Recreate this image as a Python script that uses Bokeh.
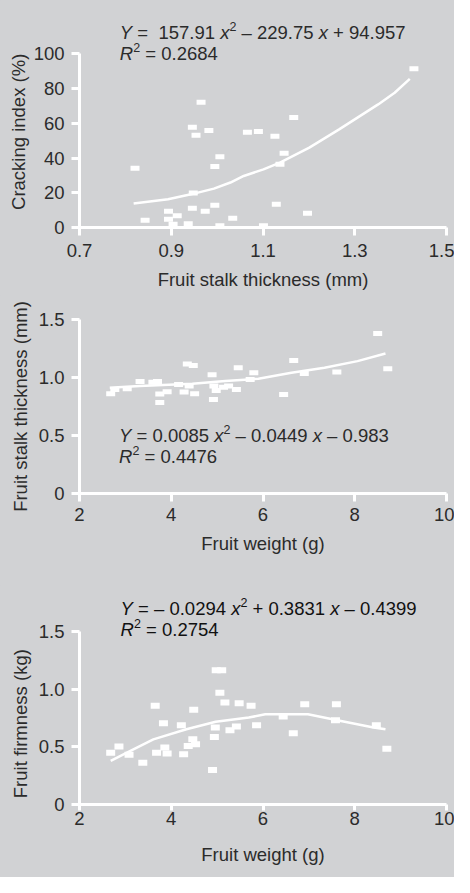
from bokeh.plotting import figure
from bokeh.layouts import column
from bokeh.models import FixedTicker, Label
from bokeh.embed import file_html
from bokeh.resources import INLINE

# ---------------- data ----------------
# Panel 1: cracking index vs fruit stalk thickness
thick1 = [0.821, 0.843, 0.894, 0.894, 0.913, 0.904, 0.937, 0.946, 0.948, 0.946,
          0.954, 0.965, 0.974, 0.982, 0.995, 0.995, 1.006, 1.006, 1.034, 1.066,
          1.090, 1.101, 1.126, 1.129, 1.137, 1.146, 1.167, 1.197, 1.429]
crack1 = [34.1, 4.2, 9.4, 4.8, 6.7, 1.9, 2.1, 11.1, 19.9, 57.7,
          53.1, 72.2, 9.4, 55.9, 35.2, 12.8, 40.8, 1.0, 5.3, 54.8,
          55.3, 1.0, 52.5, 13.4, 36.4, 42.7, 63.4, 8.2, 91.4]
fit1_x = [0.818, 0.893, 0.943, 0.993, 1.029, 1.058, 1.101, 1.137, 1.201, 1.266, 1.351, 1.387, 1.420]
fit1_y = [13.8, 16.3, 19.1, 22.4, 25.9, 29.7, 33.5, 37.4, 46.0, 56.5, 70.9, 77.6, 85.6]

# Panel 2: fruit stalk thickness vs fruit weight
weight2 = [2.68, 2.77, 3.04, 3.32, 3.60, 3.70, 3.75, 3.75, 3.91, 4.16,
           4.28, 4.35, 4.48, 4.39, 4.51, 4.89, 4.93, 4.98, 4.92, 5.14,
           5.25, 5.42, 5.46, 5.72, 5.80, 6.45, 6.67, 6.90, 7.61, 8.50, 8.72]
thick2 = [0.859, 0.897, 0.903, 0.966, 0.960, 0.966, 0.857, 0.784, 0.877, 0.940,
          0.874, 1.116, 1.103, 0.926, 0.859, 1.023, 0.926, 0.888, 0.810, 0.917,
          0.926, 0.897, 1.084, 0.983, 1.041, 0.853, 1.147, 1.034, 1.047, 1.379, 1.075]
fit2_x = [2.66, 3.31, 4.46, 5.18, 5.90, 6.62, 7.34, 8.06, 8.67]
fit2_y = [0.911, 0.926, 0.946, 0.969, 0.989, 1.041, 1.084, 1.141, 1.207]

# Panel 3: fruit firmness vs fruit weight
weight3 = [2.68, 2.86, 3.08, 3.38, 3.65, 3.68, 3.83, 3.86, 3.91, 4.22,
           4.27, 4.37, 4.47, 4.53, 4.49, 4.90, 4.94, 4.96, 4.98, 5.10,
           5.06, 5.17, 5.28, 5.42, 5.48, 5.74, 5.86, 6.44, 6.66, 6.91,
           7.60, 7.58, 8.47, 8.70]
firm3 = [0.450, 0.503, 0.433, 0.363, 0.857, 0.450, 0.706, 0.494, 0.444, 0.688,
         0.436, 0.509, 0.566, 0.523, 0.822, 0.300, 0.587, 0.668, 1.167, 1.167,
         0.970, 0.886, 0.645, 0.677, 0.880, 0.857, 0.688, 0.764, 0.618, 0.871,
         0.871, 0.732, 0.688, 0.485]
fit3_x = [2.68, 3.11, 3.61, 4.33, 4.97, 5.69, 6.05, 6.98, 7.70, 8.41, 8.67]
fit3_y = [0.378, 0.465, 0.566, 0.653, 0.718, 0.755, 0.784, 0.784, 0.726, 0.668, 0.653]

# tick values
ticks1_x = [0.7, 0.9, 1.1, 1.3, 1.5]
ticks1_y = [0, 20, 40, 60, 80, 100]
ticks_w = [2, 4, 6, 8, 10]
ticks_y23 = [0, 0.5, 1.0, 1.5]
labels_y23 = {0: "0", 0.5: "0.5", 1: "1.0", 1.5: "1.5"}

NB = "\u00a0"
# equations: (text, style)  i = italic, n = normal, s = superscript
eq1 = [("Y", "i"), (" =" + NB + " 157.91 ", "n"), ("x", "i"), ("2", "s"), (" – 229.75 ", "n"), ("x", "i"), (" + 94.957", "n")]
r1 = [("R", "i"), ("2", "s"), (" = 0.2684", "n")]
eq2 = [("Y", "i"), (" = 0.0085 ", "n"), ("x", "i"), ("2", "s"), (" – 0.0449 ", "n"), ("x", "i"), (" – 0.983", "n")]
r2 = [("R", "i"), ("2", "s"), (" = 0.4476", "n")]
eq3 = [("Y", "i"), (" = – 0.0294 ", "n"), ("x", "i"), ("2", "s"), (" + 0.3831 ", "n"), ("x", "i"), (" – 0.4399", "n")]
r3 = [("R", "i"), ("2", "s"), (" = 0.2754", "n")]

# ---------------- styling ----------------
BG = "#d1d2d4"
TXT = "#2b2b2b"
FONT = "Liberation Sans"
FS = 18.5
SUP = 12.5

# Arial / Liberation Sans advance widths (per 1000 em)
ADV = {" ": 278, NB: 278, ".": 278, "=": 584, "+": 584, "–": 556, "Y": 667, "x": 500, "R": 722}
for d in "0123456789":
    ADV[d] = 556


def text_width(s, size):
    return sum(ADV.get(c, 556) for c in s) / 1000.0 * size


def add_equation(p, segs, x, y, color):
    off = 0.0
    for txt, st in segs:
        size = SUP if st == "s" else FS
        lead = len(txt) - len(txt.lstrip(" "))
        shown = txt.strip(" ")
        lab = Label(x=x, y=y, x_offset=off + text_width(" " * lead, size),
                    y_offset=(6 if st == "s" else 0),
                    text=shown, text_font=FONT, text_font_size=f"{size}px",
                    text_font_style=("italic" if st == "i" else "normal"),
                    text_color=color, text_baseline="middle", text_align="left")
        p.add_layout(lab)
        off += text_width(txt, size)


def make_fig(h, xr, yr, borders):
    top, bottom, left, right = borders
    p = figure(width=454, height=h, x_range=xr, y_range=yr,
               output_backend="svg", toolbar_location=None,
               min_border_top=top, min_border_bottom=bottom,
               min_border_left=left, min_border_right=right)
    p.background_fill_color = BG
    p.border_fill_color = BG
    p.outline_line_color = None
    p.grid.visible = False
    for ax in (p.xaxis[0], p.yaxis[0]):
        ax.axis_line_color = "white"
        ax.axis_line_width = 3
        ax.major_tick_line_color = "white"
        ax.major_tick_line_width = 3
        ax.major_tick_out = 8
        ax.major_tick_in = 0
        ax.minor_tick_line_color = None
        ax.major_label_text_font = FONT
        ax.major_label_text_font_size = f"{FS}px"
        ax.major_label_text_color = TXT
        ax.axis_label_text_font = FONT
        ax.axis_label_text_font_size = f"{FS}px"
        ax.axis_label_text_font_style = "normal"
        ax.axis_label_text_color = TXT
    p.yaxis.major_label_standoff = 7
    return p


def add_points(p, xs, ys, h):
    p.rect(x=xs, y=ys, width=9, height=h, width_units="screen", height_units="screen",
           fill_color="white", line_color=None)


# ---------------- panel 1 ----------------
p1 = make_fig(295, (0.7, 1.5), (0, 125), (10, 68, 79, 3))
p1.xaxis.ticker = FixedTicker(ticks=ticks1_x)
p1.yaxis.ticker = FixedTicker(ticks=ticks1_y)
p1.yaxis.bounds = (ticks1_y[0], ticks1_y[-1])
p1.xaxis.axis_label = "Fruit stalk thickness (mm)"
p1.yaxis.axis_label = "Cracking index (%)" + NB * 5
p1.xaxis.major_label_standoff = 8
p1.xaxis.axis_label_standoff = 9
p1.yaxis.axis_label_standoff = 2
add_points(p1, thick1, crack1, 5)
p1.line(fit1_x, fit1_y, line_color="white", line_width=2.5)
add_equation(p1, eq1, 0.788, 112.1, TXT)
add_equation(p1, r1, 0.788, 100.0, TXT)

# ---------------- panel 2 ----------------
p2 = make_fig(290, (2, 10), (0, 1.5), (24, 92, 78, 5))
p2.xaxis.ticker = FixedTicker(ticks=ticks_w)
p2.yaxis.ticker = FixedTicker(ticks=ticks_y23)
p2.yaxis.major_label_overrides = labels_y23
p2.xaxis.axis_label = "Fruit weight (g)"
p2.yaxis.axis_label = "Fruit stalk thickness (mm)"
p2.xaxis.major_label_standoff = 6
p2.xaxis.axis_label_standoff = 9
p2.yaxis.axis_label_standoff = 5
add_points(p2, weight2, thick2, 5)
p2.line(fit2_x, fit2_y, line_color="white", line_width=2.5)
add_equation(p2, eq2, 2.863, 0.500, TXT)
add_equation(p2, r2, 2.863, 0.322, TXT)

# ---------------- panel 3 ----------------
p3 = make_fig(292, (2, 10), (0, 1.85), (6, 73, 74, 8))
p3.xaxis.ticker = FixedTicker(ticks=ticks_w)
p3.yaxis.ticker = FixedTicker(ticks=ticks_y23)
p3.yaxis.bounds = (ticks_y23[0], ticks_y23[-1])
p3.yaxis.major_label_overrides = labels_y23
p3.xaxis.axis_label = "Fruit weight (g)"
p3.yaxis.axis_label = "Fruit firmness (kg)" + NB * 10
p3.xaxis.major_tick_out = 6
p3.xaxis.major_label_standoff = 1
p3.xaxis.axis_label_standoff = 16
p3.yaxis.axis_label_standoff = 5
add_points(p3, weight3, firm3, 6)
p3.line(fit3_x, fit3_y, line_color="white", line_width=2.5)
add_equation(p3, eq3, 2.895, 1.705, "#111111")
add_equation(p3, r3, 2.895, 1.516, "#111111")

layout = column(p1, p2, p3, spacing=0, styles={"background-color": BG})
open("out.html", "w").write(file_html(layout, INLINE))
